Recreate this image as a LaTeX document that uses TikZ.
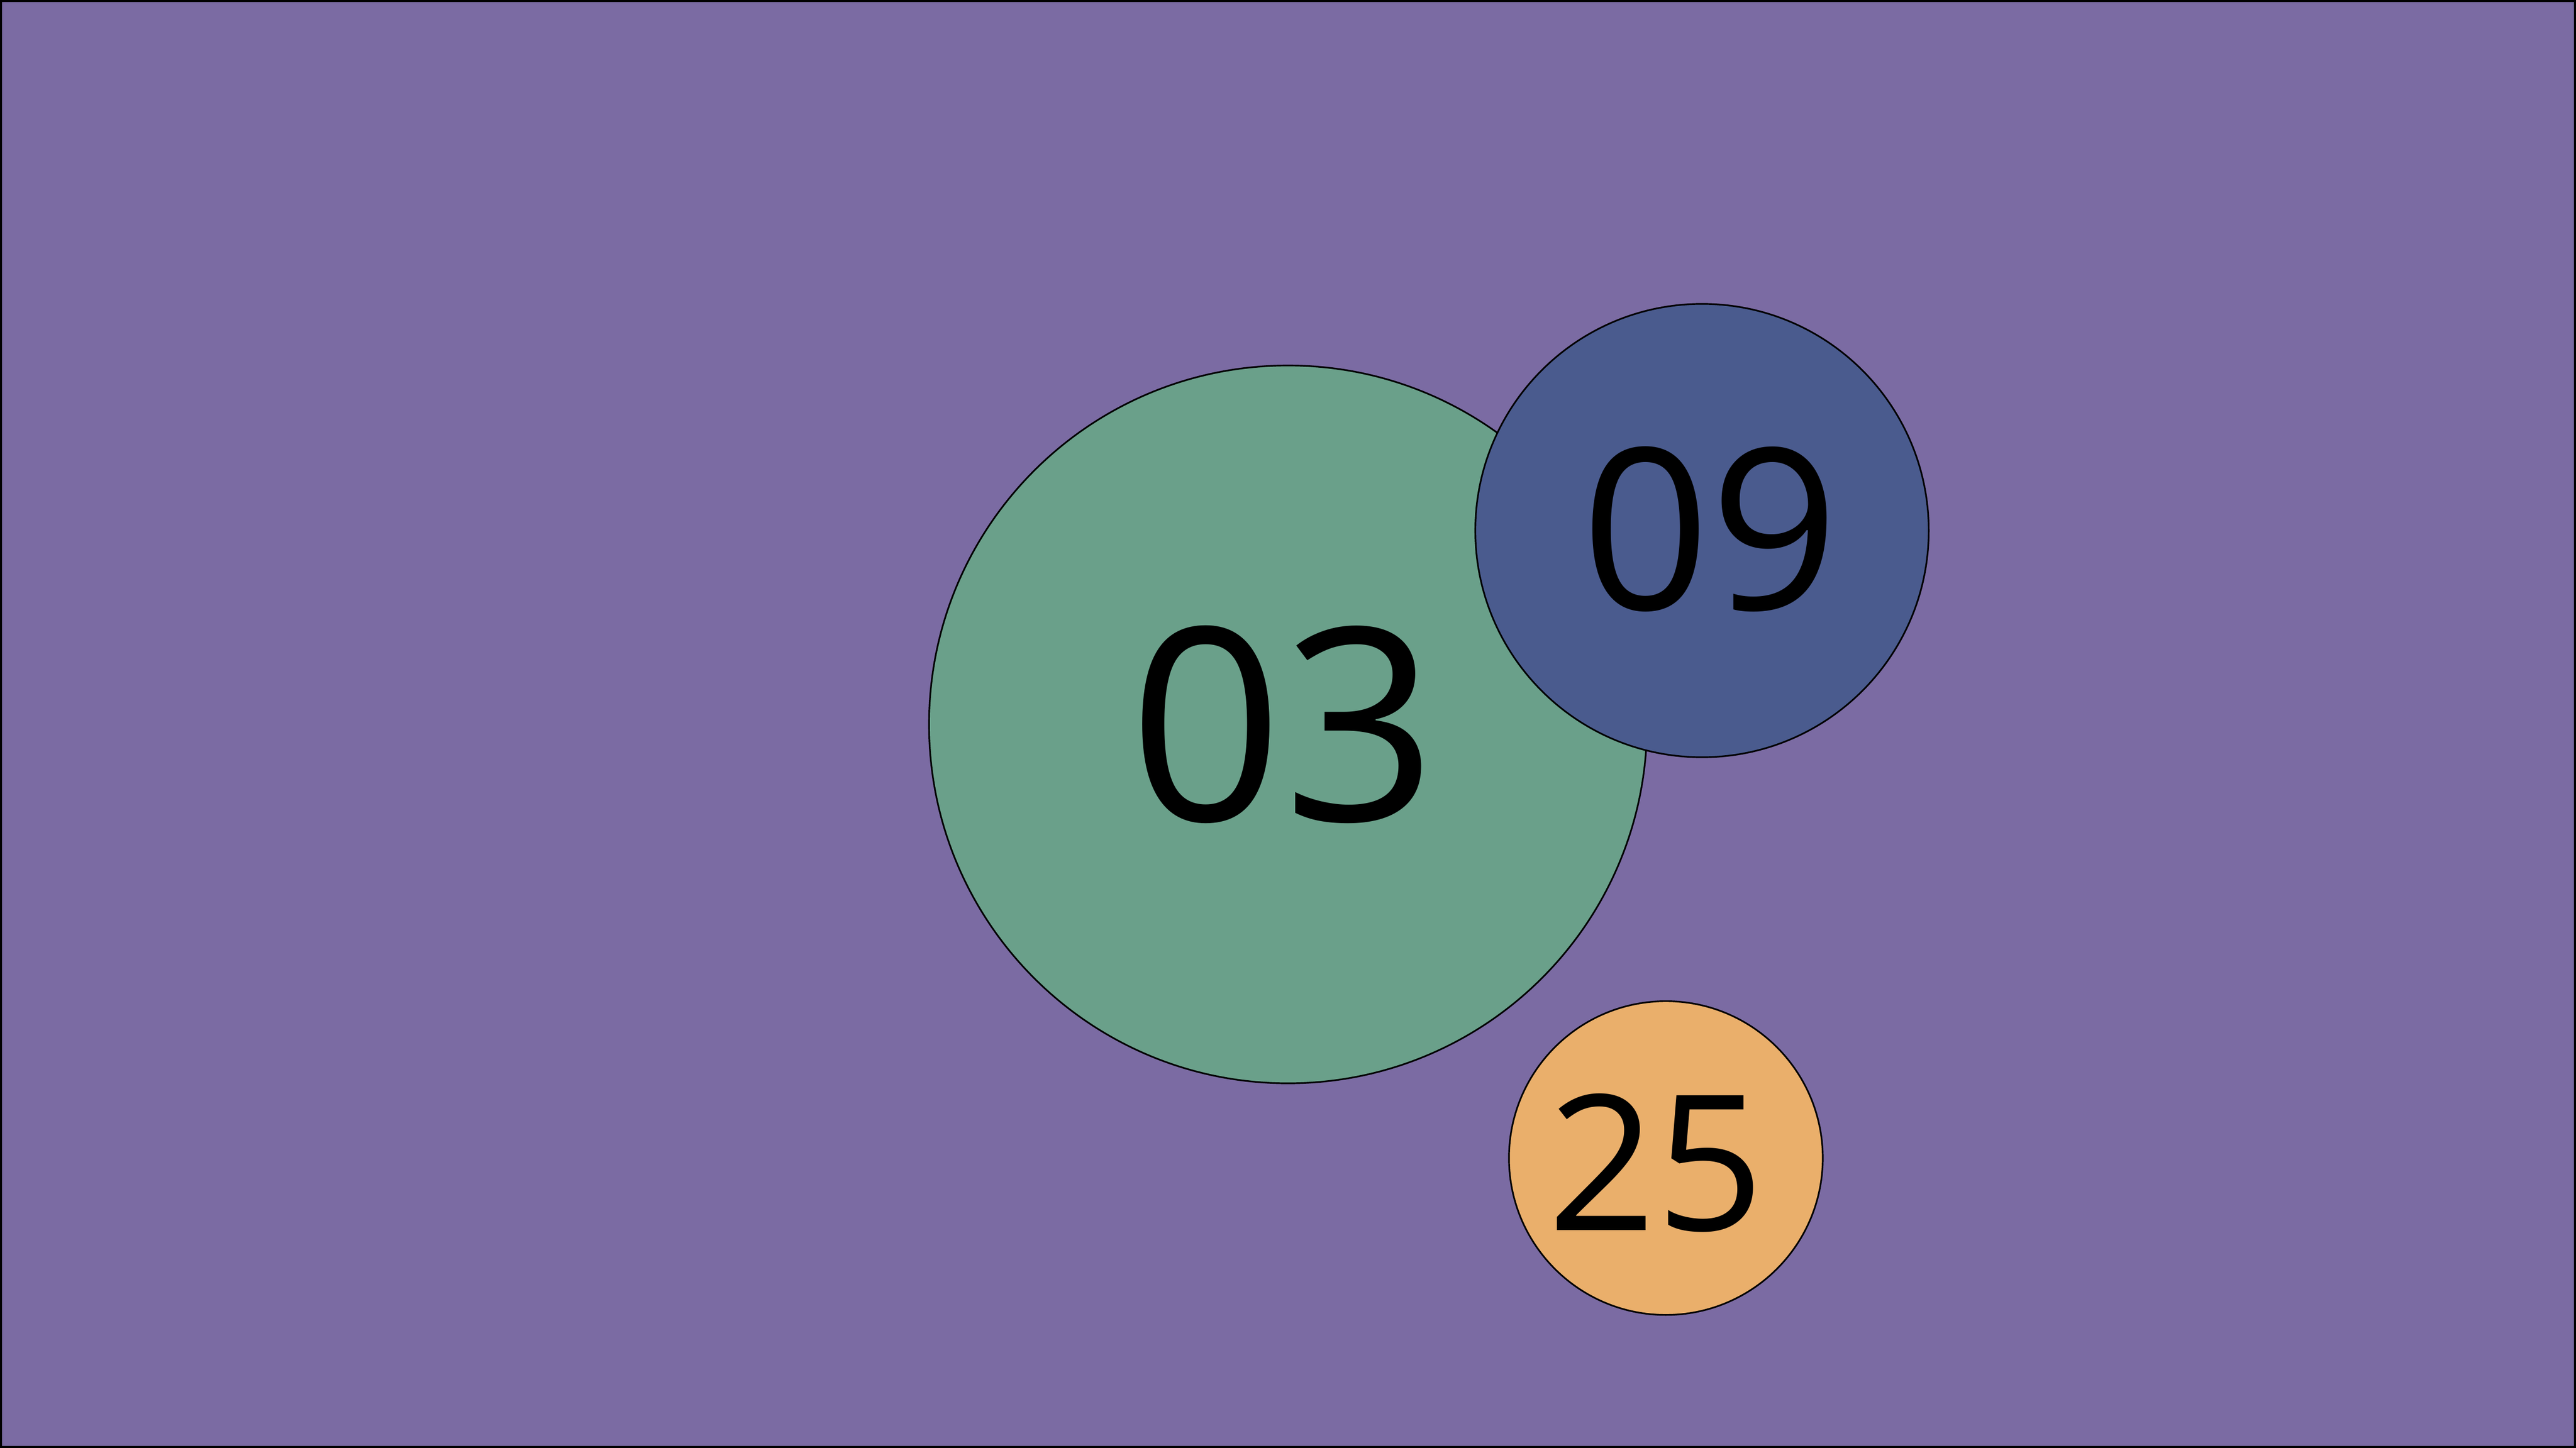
\documentclass[tikz,border=0pt]{standalone}
\usepackage{fontspec}
\setmainfont{Open Sans}
\definecolor{bgpurple}{HTML}{7B6BA3}
\definecolor{cgreen}{HTML}{6AA08A}
\definecolor{cblue}{HTML}{4A5B8E}
\definecolor{corange}{HTML}{EAAF6B}
\tikzset{
  bubble/.style={circle, draw=black, line width=1pt, inner sep=0pt},
  num/.style={inner sep=0pt, text=black, anchor=center}
}
\begin{document}
\begin{tikzpicture}[x=1pt,y=-1pt]
\useasboundingbox (0,0) rectangle (1568,881.5);
\fill[bgpurple] (0,0) rectangle (1568,881.5);
\draw[black, line width=1.2pt] (0.6,0.6) rectangle (1567.4,880.9);
\node[bubble, fill=cgreen, minimum size=437pt] (g) at (784,441) {};
\node[bubble, fill=cblue, minimum size=276pt] (b) at (1036,323) {};
\node[bubble, fill=corange, minimum size=191pt] (o) at (1014,705) {};
\node[num, font=\fontsize{164}{166}\selectfont] (t03) at (781,441) {03};
\node[num, font=\fontsize{137}{139}\selectfont] (t09) at (1041,322) {09};
\node[num, font=\fontsize{115}{117}\selectfont] (t25) at (1008,708) {25};
\end{tikzpicture}
\end{document}
